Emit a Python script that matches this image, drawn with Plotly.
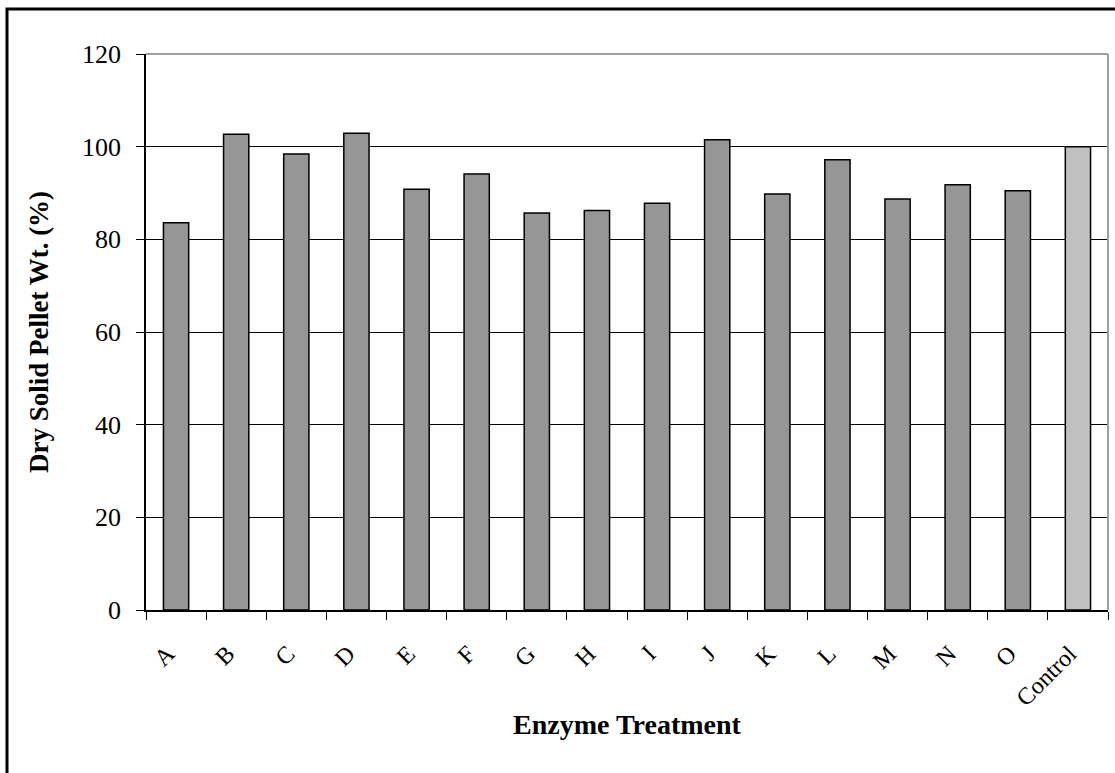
import plotly.graph_objects as go

categories = ["A", "B", "C", "D", "E", "F", "G", "H", "I", "J", "K", "L", "M", "N", "O", "Control"]
values = [83.6, 102.7, 98.4, 102.9, 90.8, 94.1, 85.7, 86.2, 87.8, 101.5, 89.8, 97.2, 88.7, 91.8, 90.5, 100.0]
y_ticks = [0, 20, 40, 60, 80, 100, 120]

W, H = 1115, 773
L, R, T, B = 146, 7, 54, 163
pw, ph = W - L - R, H - T - B

colors = ["#969696"] * (len(categories) - 1) + ["#C0C0C0"]

fig = go.Figure()
fig.add_trace(go.Bar(
    x=categories, y=values,
    marker=dict(color=colors, line=dict(color="#000000", width=1.5)),
    width=0.42,
))

font_family = "Liberation Serif, Times New Roman, serif"

def px_x(p):
    return (p - L) / pw

def px_y(p):
    return (H - B - p) / ph

# labels padded with trailing non-breaking spaces so that rotated text sits like the original
tick_text = [c + "\u00a0\u00a0" for c in categories]

fig.update_layout(
    width=W, height=H,
    margin=dict(l=L, r=R, t=T, b=B),
    paper_bgcolor="white", plot_bgcolor="white",
    showlegend=False,
    font=dict(family=font_family, color="#000000"),
    xaxis=dict(
        type="category", range=[-0.5, len(categories) - 0.5],
        tickmode="array", tickvals=categories, ticktext=tick_text,
        tickson="boundaries", ticks="outside", ticklen=8, tickcolor="#000000",
        showline=True, linecolor="#000000", linewidth=1.5,
        showgrid=False, tickangle=-45,
        tickfont=dict(size=24, family=font_family),
        ticklabelstandoff=10,
        title=dict(text="<b>Enzyme Treatment</b>", font=dict(size=28, family=font_family), standoff=4),
    ),
    yaxis=dict(
        range=[0, 120], tickvals=y_ticks,
        ticks="outside", ticklen=8, tickcolor="#000000",
        showline=True, linecolor="#000000", linewidth=1.5,
        showgrid=True, gridcolor="#000000", gridwidth=1,
        zeroline=False,
        tickfont=dict(size=26, family=font_family),
        ticklabelstandoff=10,
        title=dict(text="<b>Dry Solid Pellet Wt. (%)</b>", font=dict(size=27, family=font_family), standoff=26),
    ),
    shapes=[
        # plot area top/right border (gray)
        dict(type="line", xref="paper", yref="paper", x0=0, x1=1, y0=1, y1=1,
             line=dict(color="#A0A0A0", width=2), layer="above"),
        dict(type="line", xref="paper", yref="paper", x0=1, x1=1, y0=0, y1=1,
             line=dict(color="#A0A0A0", width=2), layer="above"),
        # outer chart border
        dict(type="rect", xref="paper", yref="paper",
             x0=px_x(7), x1=px_x(W + 3), y0=px_y(H + 3), y1=px_y(9),
             line=dict(color="#000000", width=3), fillcolor="rgba(0,0,0,0)", layer="above"),
    ],
)

fig.write_html("out.html")
